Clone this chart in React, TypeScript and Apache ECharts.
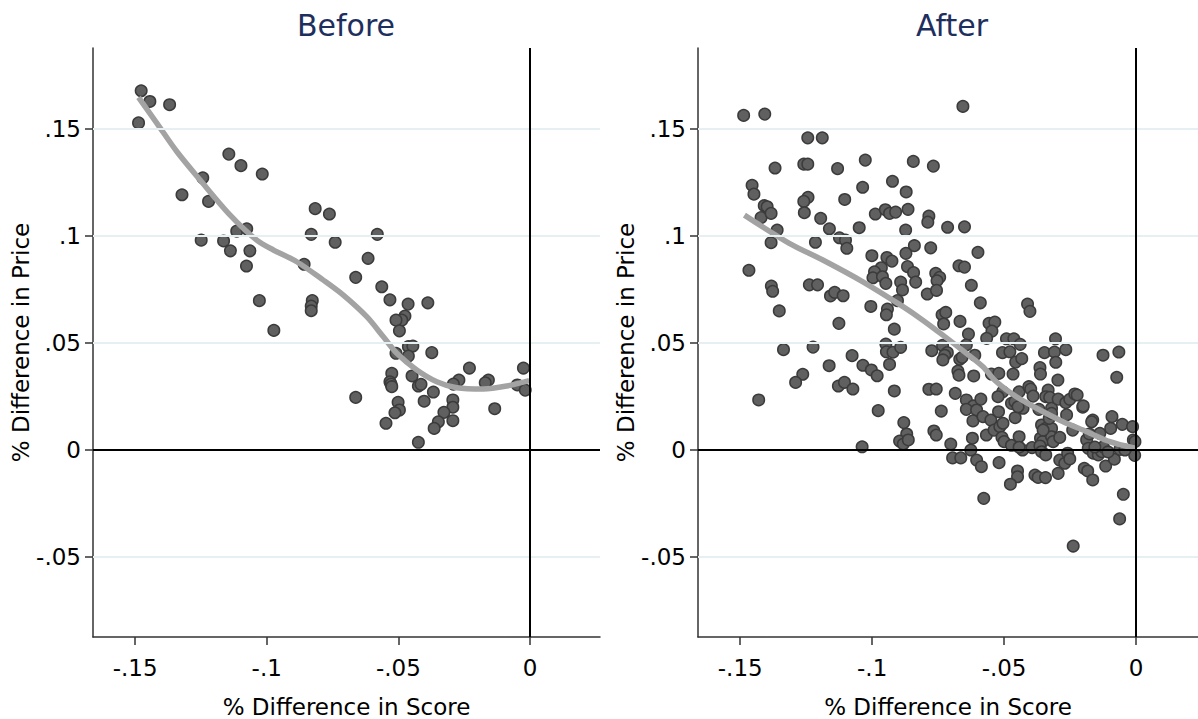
import { useEffect, useRef } from "react";
import * as echarts from "echarts";

// Axis ticks, reference levels and texts
const xTicks = [-0.15, -0.1, -0.05, 0];
const yTicks = [-0.05, 0, 0.05, 0.1, 0.15];
const gridLevels = [-0.05, 0.05, 0.1, 0.15];
const panelTitles = ["Before", "After"];
const xTitle = "% Difference in Score";
const yTitle = "% Difference in Price";

// Before: [score diff, price diff]
const beforePoints: number[][] = [
  [-0.1477, 0.1679], [-0.1444, 0.1629], [-0.1369, 0.1614], [-0.1487, 0.1529], [-0.1144, 0.1383],
  [-0.1098, 0.1329], [-0.1017, 0.129], [-0.1243, 0.1272], [-0.1322, 0.1193], [-0.1221, 0.1162],
  [-0.0816, 0.1128], [-0.0762, 0.1103], [-0.1114, 0.1023], [-0.1076, 0.1034], [-0.0831, 0.1008],
  [-0.058, 0.1008], [-0.1249, 0.0981], [-0.1164, 0.0977], [-0.074, 0.0971], [-0.1138, 0.0931],
  [-0.1064, 0.0931], [-0.0858, 0.0868], [-0.1077, 0.086], [-0.0615, 0.0896], [-0.0662, 0.0807],
  [-0.0563, 0.0763], [-0.1028, 0.0698], [-0.0827, 0.0698], [-0.0831, 0.0673], [-0.0831, 0.0651],
  [-0.0532, 0.0702], [-0.0463, 0.0682], [-0.0388, 0.0688], [-0.0475, 0.0626], [-0.0487, 0.0607],
  [-0.0509, 0.0607], [-0.0496, 0.0557], [-0.0973, 0.0559], [-0.0462, 0.0483], [-0.0445, 0.0486],
  [-0.0509, 0.0452], [-0.0462, 0.0439], [-0.0373, 0.0455], [-0.0525, 0.0358], [-0.0532, 0.0319],
  [-0.0528, 0.0308], [-0.0525, 0.0296], [-0.0448, 0.0346], [-0.0424, 0.0299], [-0.0414, 0.0307],
  [-0.0367, 0.0271], [-0.0402, 0.0228], [-0.023, 0.0383], [-0.027, 0.0327], [-0.0291, 0.0308],
  [-0.0293, 0.0234], [-0.0293, 0.02], [-0.0327, 0.0176], [-0.0348, 0.0132], [-0.0364, 0.0101],
  [-0.0293, 0.0137], [-0.0501, 0.0223], [-0.0496, 0.0187], [-0.0513, 0.0174], [-0.0547, 0.0125],
  [-0.0424, 0.0036], [-0.0662, 0.0246], [-0.0158, 0.0327], [-0.017, 0.0314], [-0.0048, 0.0304],
  [-0.0025, 0.0383], [-0.0018, 0.028], [-0.0134, 0.0193],
];

// Before: lowess fit
const beforeFit: number[][] = [
  [-0.1487, 0.1648], [-0.1417, 0.1527], [-0.1341, 0.1394], [-0.1253, 0.1262], [-0.1139, 0.1098],
  [-0.1038, 0.0981], [-0.0975, 0.0935], [-0.0886, 0.088], [-0.0785, 0.0794], [-0.0709, 0.0724],
  [-0.062, 0.0623], [-0.0557, 0.0529], [-0.0506, 0.0452], [-0.043, 0.0374], [-0.0354, 0.0319],
  [-0.0278, 0.0291], [-0.0177, 0.0285], [-0.0088, 0.0299], [-0.0003, 0.0324],
];

// After: [score diff, price diff]
const afterPoints: number[][] = [
  [-0.1487, 0.1564], [-0.1407, 0.157], [-0.0656, 0.1606], [-0.1244, 0.1459], [-0.1189, 0.1459],
  [-0.1368, 0.1318], [-0.1259, 0.1336], [-0.1244, 0.1336], [-0.1131, 0.1315], [-0.1026, 0.1355],
  [-0.0844, 0.1349], [-0.0768, 0.1327], [-0.1455, 0.1237], [-0.1448, 0.1196], [-0.1036, 0.1228],
  [-0.0923, 0.1256], [-0.0871, 0.1206], [-0.1243, 0.1181], [-0.1259, 0.1162], [-0.1104, 0.1171],
  [-0.1409, 0.1142], [-0.1398, 0.1137], [-0.0988, 0.1103], [-0.095, 0.1123], [-0.0934, 0.1106],
  [-0.0911, 0.1112], [-0.0864, 0.1125], [-0.0785, 0.1093], [-0.0789, 0.1065], [-0.0714, 0.1041],
  [-0.065, 0.1043], [-0.0873, 0.1028], [-0.1195, 0.1083], [-0.1162, 0.1034], [-0.1049, 0.1039],
  [-0.1124, 0.0992], [-0.1101, 0.0981], [-0.1096, 0.0943], [-0.084, 0.0955], [-0.0778, 0.0945],
  [-0.0872, 0.0919], [-0.0599, 0.0924], [-0.1001, 0.0908], [-0.0944, 0.09], [-0.0925, 0.0883],
  [-0.0671, 0.0861], [-0.065, 0.0855], [-0.0866, 0.0857], [-0.0965, 0.0852], [-0.0991, 0.0833],
  [-0.0997, 0.0805], [-0.0961, 0.081], [-0.0843, 0.0829], [-0.0759, 0.0826], [-0.0744, 0.0807],
  [-0.0754, 0.0791], [-0.0948, 0.0779], [-0.0892, 0.0785], [-0.0835, 0.0785], [-0.0624, 0.077],
  [-0.1257, 0.1109], [-0.1421, 0.1086], [-0.1383, 0.1106], [-0.136, 0.1028], [-0.1383, 0.0969],
  [-0.1215, 0.0971], [-0.1467, 0.084], [-0.0885, 0.0748], [-0.1382, 0.0766], [-0.1377, 0.0742],
  [-0.1238, 0.0772], [-0.1207, 0.0772], [-0.1158, 0.072], [-0.1142, 0.0737], [-0.111, 0.0721],
  [-0.0791, 0.0729], [-0.0756, 0.0746], [-0.1352, 0.065], [-0.0904, 0.0698], [-0.1005, 0.0671],
  [-0.0942, 0.0659], [-0.0946, 0.0632], [-0.059, 0.0688], [-0.0411, 0.0682], [-0.0402, 0.0648],
  [-0.1126, 0.0592], [-0.0916, 0.0565], [-0.0735, 0.0632], [-0.0721, 0.0643], [-0.0729, 0.0589],
  [-0.0667, 0.0601], [-0.0557, 0.0592], [-0.0535, 0.0598], [-0.0546, 0.0556], [-0.0635, 0.0542],
  [-0.0566, 0.0522], [-0.0491, 0.052], [-0.0463, 0.052], [-0.0439, 0.0494], [-0.0305, 0.052],
  [-0.1336, 0.0469], [-0.1224, 0.0481], [-0.0948, 0.0495], [-0.0946, 0.0459], [-0.0921, 0.0457],
  [-0.0892, 0.048], [-0.0774, 0.0464], [-0.0733, 0.0489], [-0.0715, 0.0455], [-0.0725, 0.0443],
  [-0.0732, 0.0421], [-0.0643, 0.0491], [-0.0611, 0.0443], [-0.0668, 0.0424], [-0.0659, 0.0433],
  [-0.0506, 0.0455], [-0.0478, 0.0459], [-0.0456, 0.0411], [-0.0433, 0.0427], [-0.0347, 0.0455],
  [-0.0309, 0.0458], [-0.0266, 0.0469], [-0.0304, 0.041], [-0.0125, 0.0443], [-0.0065, 0.0458],
  [-0.1163, 0.0394], [-0.1076, 0.0441], [-0.1035, 0.0396], [-0.1003, 0.0374], [-0.0934, 0.04],
  [-0.0364, 0.0385], [-0.1263, 0.0354], [-0.129, 0.0316], [-0.0981, 0.0347], [-0.1128, 0.0299],
  [-0.1105, 0.0316], [-0.1073, 0.0285], [-0.143, 0.0234], [-0.0916, 0.0276], [-0.0977, 0.0184],
  [-0.088, 0.0128], [-0.0869, 0.0075], [-0.0896, 0.0042], [-0.0882, 0.0028], [-0.0863, 0.0047],
  [-0.1038, 0.0015], [-0.0785, 0.0284], [-0.0757, 0.0285], [-0.0685, 0.0265], [-0.0738, 0.0182],
  [-0.0766, 0.0089], [-0.0757, 0.007], [-0.0702, 0.0028], [-0.0695, -0.0037], [-0.0664, -0.0037],
  [-0.0626, 0.0], [-0.062, 0.0055], [-0.0675, 0.0369], [-0.0671, 0.035], [-0.0615, 0.0346],
  [-0.0643, 0.0234], [-0.0616, 0.0206], [-0.0643, 0.019], [-0.0604, 0.0187], [-0.0588, 0.0238],
  [-0.0618, 0.0136], [-0.058, 0.0156], [-0.055, 0.014], [-0.0521, 0.0179], [-0.0567, 0.007],
  [-0.0538, 0.0093], [-0.0516, 0.0109], [-0.0504, 0.0125], [-0.0508, 0.0059], [-0.05, 0.0039],
  [-0.0472, 0.0022], [-0.0604, -0.0047], [-0.0586, -0.0078], [-0.0519, -0.0059], [-0.0548, 0.0355],
  [-0.052, 0.0358], [-0.0466, 0.0355], [-0.0505, 0.0272], [-0.0523, 0.0249], [-0.0472, 0.0218],
  [-0.0459, 0.0226], [-0.0443, 0.0272], [-0.0406, 0.0296], [-0.0399, 0.0285], [-0.0362, 0.0355],
  [-0.039, 0.0252], [-0.0368, 0.019], [-0.0428, 0.0195], [-0.0458, 0.0151], [-0.0443, 0.0062],
  [-0.043, 0.0], [-0.0394, 0.0011], [-0.0362, 0.0055], [-0.0354, 0.0039], [-0.0364, 0.0019],
  [-0.0358, -0.0008], [-0.0342, -0.0023], [-0.0333, 0.028], [-0.0342, 0.0249], [-0.0327, 0.0246],
  [-0.032, 0.0195], [-0.0358, 0.0117], [-0.0342, 0.0101], [-0.032, 0.0101], [-0.0329, 0.0148],
  [-0.032, 0.0062], [-0.0314, 0.0039], [-0.0289, 0.0059], [-0.0296, 0.0327], [-0.0295, 0.0238],
  [-0.0266, 0.0221], [-0.0251, 0.0237], [-0.0232, 0.0262], [-0.0223, 0.0257], [-0.0263, 0.0164],
  [-0.024, 0.0093], [-0.0202, 0.02], [-0.02, 0.0206], [-0.0164, 0.014], [-0.0168, 0.0132],
  [-0.0289, -0.0047], [-0.027, -0.0062], [-0.0259, -0.0015], [-0.0251, -0.0042], [-0.0295, -0.0109],
  [-0.0383, -0.0117], [-0.0371, -0.0128], [-0.0343, -0.0129], [-0.0449, -0.0098], [-0.0449, -0.0125],
  [-0.0476, -0.016], [-0.0577, -0.0226], [-0.0238, -0.0449], [-0.0196, -0.0086], [-0.0183, -0.0098],
  [-0.0164, -0.014], [-0.0187, 0.0047], [-0.0181, 0.0008], [-0.0162, -0.0015], [-0.0143, -0.0023],
  [-0.013, -0.0008], [-0.0137, 0.0078], [-0.0124, 0.0015], [-0.0115, -0.0075], [-0.0096, 0.0101],
  [-0.0091, 0.0156], [-0.0082, -0.0043], [-0.0061, 0.0003], [-0.0052, 0.012], [-0.0073, 0.034],
  [-0.0013, 0.0109], [-0.001, 0.0047], [-0.0004, 0.0039], [-0.0005, -0.0025], [-0.0048, -0.0207],
  [-0.0062, -0.0322], [-0.0447, 0.0202], [-0.032, 0.0171], [-0.0352, 0.0093], [-0.0177, 0.0075],
  [-0.0443, 0.0013], [-0.0156, 0.0014], [-0.0106, -0.0009], [-0.0042, 0.0],
];

// After: lowess fit
const afterFit: number[][] = [
  [-0.1484, 0.1098], [-0.1314, 0.0966], [-0.1187, 0.0888], [-0.1035, 0.0786], [-0.0883, 0.067],
  [-0.0808, 0.0607], [-0.0732, 0.0537], [-0.0643, 0.0452], [-0.058, 0.0389], [-0.0529, 0.0319],
  [-0.0453, 0.0249], [-0.0364, 0.0187], [-0.0276, 0.0132], [-0.0187, 0.0086], [-0.0099, 0.0039],
  [-0.0004, 0.0008],
];

const FONT = "DejaVu Sans";
const Y_MIN = -0.0874;
const Y_MAX = 0.1879;
const X_MIN = -0.166;
const X_MAX = [0.0266, 0.0235];
const GRIDS = [
  { left: 93, top: 48, width: 507, height: 589 },
  { left: 698, top: 48, width: 500, height: 589 },
];
const TITLE_X = [346, 952];

const fmt = (v: number) => (v === 0 ? "0" : String(+v.toFixed(3)).replace("0.", "."));

const axisColor = "#333333";

function buildOption() {
  const panels = [
    { points: beforePoints, fit: beforeFit },
    { points: afterPoints, fit: afterFit },
  ];

  const xAxis = panels.map((_, i) => ({
    type: "value",
    gridIndex: i,
    min: X_MIN,
    max: X_MAX[i],
    name: xTitle,
    nameLocation: "middle",
    nameGap: 58,
    nameTextStyle: { fontFamily: FONT, fontSize: 23, color: "#000" },
    axisLine: { show: true, onZero: false, lineStyle: { color: axisColor, width: 1.5 } },
    axisTick: { show: true, length: 8, customValues: xTicks, lineStyle: { color: axisColor, width: 1.5 } },
    axisLabel: { customValues: xTicks, formatter: fmt, fontFamily: FONT, fontSize: 23, color: "#000", margin: 19 },
    splitLine: { show: false },
  }));

  const yAxis = panels.map((_, i) => ({
    type: "value",
    gridIndex: i,
    min: Y_MIN,
    max: Y_MAX,
    name: yTitle,
    nameLocation: "middle",
    nameGap: 58,
    nameTextStyle: { fontFamily: FONT, fontSize: 23, color: "#000" },
    axisLine: { show: true, onZero: false, lineStyle: { color: axisColor, width: 1.5 } },
    axisTick: { show: true, length: 8, customValues: yTicks, lineStyle: { color: axisColor, width: 1.5 } },
    axisLabel: { customValues: yTicks, formatter: fmt, fontFamily: FONT, fontSize: 23, color: "#000", margin: 12 },
    splitLine: { show: false },
  }));

  const series: any[] = [];
  panels.forEach((p, i) => {
    // background grid lines and zero reference lines
    series.push({
      type: "line",
      xAxisIndex: i,
      yAxisIndex: i,
      data: [],
      z: 1,
      silent: true,
      markLine: {
        silent: true,
        symbol: "none",
        label: { show: false },
        emphasis: { disabled: true },
        data: [
          ...gridLevels.map((v) => ({ yAxis: v, lineStyle: { color: "#e6eff2", width: 2, type: "solid" } })),
          { yAxis: 0, lineStyle: { color: "#000", width: 2, type: "solid" } },
          { xAxis: 0, lineStyle: { color: "#000", width: 2, type: "solid" } },
        ],
      },
    });
    series.push({
      type: "scatter",
      xAxisIndex: i,
      yAxisIndex: i,
      data: p.points,
      symbol: "circle",
      symbolSize: 11.5,
      z: 3,
      itemStyle: { color: "#606060", borderColor: "#3b3b3b", borderWidth: 1.5, opacity: 1 },
      emphasis: { disabled: true },
    });
    series.push({
      type: "line",
      xAxisIndex: i,
      yAxisIndex: i,
      data: p.fit,
      showSymbol: false,
      smooth: 0.3,
      z: 4,
      lineStyle: { color: "#a3a3a3", width: 5.5 },
      emphasis: { disabled: true },
    });
  });

  return {
    animation: false,
    backgroundColor: "#ffffff",
    grid: GRIDS.map((g) => ({ ...g, containLabel: false, outerBoundsMode: "none" })),
    xAxis,
    yAxis,
    series,
    graphic: panelTitles.map((t, i) => ({
      type: "text",
      x: TITLE_X[i],
      y: 10,
      style: {
        text: t,
        align: "center",
        verticalAlign: "top",
        fontFamily: FONT,
        fontSize: 30,
        fill: "#1e2f5e",
      },
    })),
  };
}

export default function App() {
  const ref = useRef<HTMLDivElement>(null);
  useEffect(() => {
    if (!ref.current) return;
    const chart = echarts.init(ref.current, null, { renderer: "svg" });
    chart.setOption(buildOption() as any);
    return () => chart.dispose();
  }, []);
  return (
    <div
      ref={ref}
      style={{ position: "absolute", left: 0, top: 0, width: 1198, height: 719, background: "#fff" }}
    />
  );
}
